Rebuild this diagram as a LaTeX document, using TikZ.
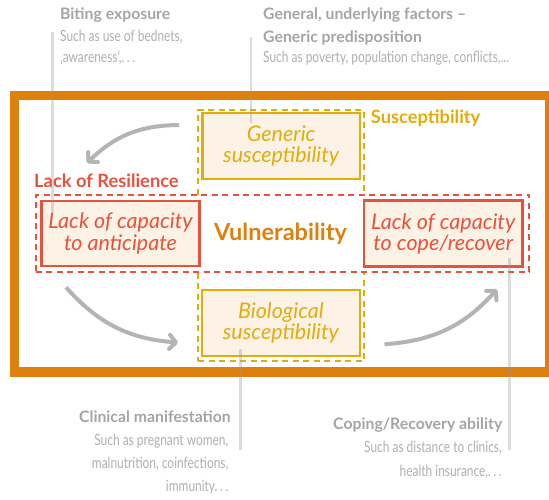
\documentclass[tikz,border=0pt]{standalone}
\usepackage{fontspec}
\setmainfont{Lato}
\newfontfamily\condfont{Lato}[FakeStretch=0.77]
\usetikzlibrary{arrows.meta}
\definecolor{frameorange}{RGB}{221,128,14}
\definecolor{gold}{RGB}{227,172,10}
\definecolor{redc}{RGB}{232,82,60}
\definecolor{peach}{RGB}{253,242,230}
\definecolor{arrowgrey}{RGB}{180,180,180}
\definecolor{titlegrey}{RGB}{165,165,165}
\definecolor{bodygrey}{RGB}{176,176,176}
\definecolor{leadgrey}{RGB}{150,150,150}
\newcommand{\spdots}{.\,.\,.}
\tikzset{
  box/.style={draw, line width=2.5pt, fill=peach, inner sep=0pt, align=center,
    font=\itshape\fontsize{21.5}{21.5}\selectfont},
  goldbox/.style={box, draw=gold, text=gold},
  redbox/.style={box, draw=redc, text=redc},
  dashbox/.style={line width=1.7pt, dash pattern=on 6pt off 4.5pt, inner sep=0pt},
  flow/.style={draw=arrowgrey, line width=4pt, -{Straight Barb[length=6.5pt,width=14pt,round]}},
  leader/.style={draw=leadgrey, line width=2.5pt, opacity=0.33},
  titletext/.style={font=\bfseries\fontsize{15.8}{18}\selectfont, text=titlegrey, inner sep=0pt},
  bodytext/.style={font=\condfont\fontsize{15.5}{18}\selectfont, text=bodygrey, inner sep=0pt},
}
\begin{document}
\begin{tikzpicture}[x=1pt,y=-1pt]
\useasboundingbox[fill=white] (0,0) rectangle (549,499);
% orange frame
\draw[frameorange, line width=9.3pt] (14.5,95.3) rectangle (549.7,372);
% susceptibility dashed
\node[dashbox, draw=gold, minimum width=166pt, minimum height=251pt] (susc) at (281.3,235.5) {};
% resilience dashed
\node[dashbox, draw=redc, fill=white, minimum width=493.6pt, minimum height=76.7pt] (resil) at (282.5,233.35) {};
% boxes
\node[goldbox, minimum width=157.7pt, minimum height=66.3pt] (generic) at (281.2,145.9) {Generic\\susceptibility};
\node[goldbox, minimum width=158.3pt, minimum height=66pt] (bio) at (280.9,323) {Biological\\susceptibility};
\node[redbox, minimum width=157.6pt, minimum height=65.3pt] (antic) at (120.5,233.4) {Lack of capacity\\to anticipate};
\node[redbox, minimum width=158.3pt, minimum height=66pt] (cope) at (443.2,233.7) {Lack of capacity\\to cope/recover};
% labels
\node[anchor=base, inner sep=0pt, text=frameorange, font=\bfseries\fontsize{23.5}{26}\selectfont] (vul) at (280.5,240) {Vulnerability};
\node[anchor=base west, inner sep=0pt, text=redc, font=\bfseries\fontsize{18.3}{20}\selectfont] (reslab) at (34,187) {Lack of Resilience};
\node[anchor=base west, inner sep=0pt, text=gold, font=\bfseries\fontsize{18.3}{20}\selectfont] (suslab) at (370.7,123.3) {Susceptibility};
% flow arrows
\coordinate (a1s) at (179,125);
\coordinate (a1e) at (87,163);
\coordinate (a2s) at (66,287.3);
\coordinate (a2e) at (178,342.5);
\coordinate (a3s) at (384.5,344.3);
\coordinate (a3e) at (497,289.3);
\draw[flow] (a1s) to[bend right=22] (a1e);
\draw[flow] (a2s) to[bend right=22] (a2e);
\draw[flow] (a3s) to[bend right=22] (a3e);
% annotation texts
\node[titletext, anchor=base west] (bite) at (60,19.5) {Biting exposure};
\node[bodytext, anchor=base west] (bite1) at (60,41.5) {Such as use of bednets,};
\node[bodytext, anchor=base west] (bite2) at (60,62) {‚awareness‘,\spdots};
\node[titletext, anchor=base west] (gen) at (263,19.5) {General, underlying factors –};
\node[titletext, anchor=base west] (gen1) at (263,42.5) {Generic predisposition};
\node[bodytext, anchor=base west] (gen2) at (263,62) {Such as poverty, population change, conflicts,...};
\node[titletext, anchor=base east] (clin) at (231,422.7) {Clinical manifestation};
\node[bodytext, anchor=base east] (clin1) at (228.5,445.5) {Such as pregnant women,};
\node[bodytext, anchor=base east] (clin2) at (228.5,468.3) {malnutrition, coinfections,};
\node[bodytext, anchor=base east] (clin3) at (228.5,491) {immunity\spdots};
\node[titletext, anchor=base east] (copt) at (502.5,429.3) {Coping/Recovery ability};
\node[bodytext, anchor=base east] (copt1) at (502,452.7) {Such as distance to clinics,};
\node[bodytext, anchor=base east] (copt2) at (502,476) {health insurance,\spdots};
% leader lines
\coordinate (l1a) at (52.3,31.7);
\coordinate (l1b) at (52.3,212);
\coordinate (l2a) at (251,36.7);
\coordinate (l2b) at (251,123.3);
\coordinate (l3a) at (240.7,349.3);
\coordinate (l3b) at (240.7,450);
\coordinate (l4a) at (509.3,258);
\coordinate (l4b) at (509.3,450);
\draw[leader] (l1a) -- (l1b);
\draw[leader] (l2a) -- (l2b);
\draw[leader] (l3a) -- (l3b);
\draw[leader] (l4a) -- (l4b);
\end{tikzpicture}
\end{document}
